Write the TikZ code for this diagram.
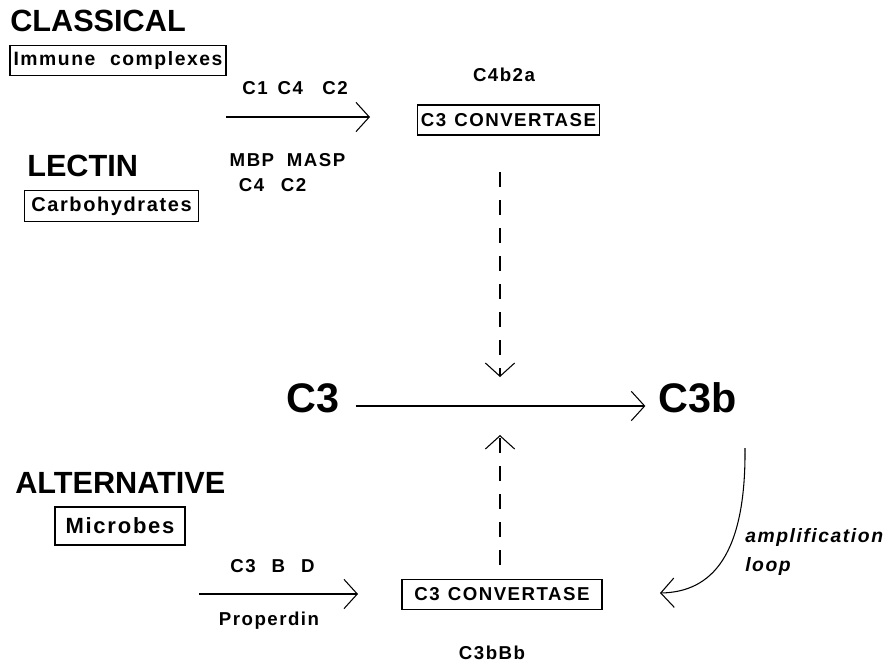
\documentclass[tikz,border=0pt]{standalone}
\usepackage{fontspec}
\setmainfont{Liberation Sans}
\newfontfamily\spacedsans[LetterSpace=8]{Liberation Sans}
\usepackage{tikz}
\usetikzlibrary{arrows.meta}

\begin{document}
\begin{tikzpicture}[x=0.75pt,y=0.75pt,yscale=-1,xscale=1,
  head/.style={anchor=west,inner sep=0pt,font=\fontsize{23}{26}\selectfont\bfseries},
  big/.style={inner sep=0pt,font=\fontsize{31}{34}\selectfont\bfseries},
  lbl/.style={inner sep=0pt,font=\fontsize{14}{16}\spacedsans\bfseries},
  ital/.style={anchor=west,inner sep=0pt,font=\fontsize{14.5}{16}\spacedsans\bfseries\itshape},
  boxlbl/.style={draw,line width=0.8pt,inner sep=2pt,font=\fontsize{15}{17}\spacedsans\bfseries},
  arr/.style={line width=0.8pt,-{Straight Barb[length=10pt,width=22pt,line width=0.8pt]}},
  dasharr/.style={arr,dash pattern=on 11pt off 10pt}]
\useasboundingbox (0,0) rectangle (891,668);
% Text Node
\node [head] (classical) at (10,21) {CLASSICAL};
% Text Node
\node [boxlbl,font=\fontsize{14.5}{16}\spacedsans\bfseries,minimum width=162pt,minimum height=22.5pt] (immune) at (118,60.5) {Immune\hspace{11pt}complexes};
% Text Node
\node [lbl] (cfour) at (295,88) {C1\hspace{7.5pt}C4\hspace{14.5pt}C2};
% Text Node
\node [head] (lectin) at (27,166) {LECTIN};
% Text Node
\node [boxlbl,minimum width=130pt,minimum height=23.5pt] (carbo) at (111.5,206) {Carbohydrates};
% Text Node
\node [lbl] (mbp) at (287.5,160) {MBP\hspace{9.5pt}MASP};
% Text Node
\node [lbl] (lectinc) at (272.5,185.5) {C4\hspace{12.5pt}C2};
% Text Node
\node [lbl] (cfourb) at (504,75) {C4b2a};
% Text Node
\node [boxlbl,font=\fontsize{14}{16}\spacedsans\bfseries,minimum width=137pt,minimum height=22.5pt] (convclass) at (508.5,120) {C3\hspace{6pt}CONVERTASE};
% Text Node
\node [big] (cthree) at (313,398) {C3};
% Text Node
\node [big] (cthreeb) at (698,398) {C3b};
% Text Node
\node [head] (alternative) at (15,483) {ALTERNATIVE};
% Text Node
\node [boxlbl,font=\fontsize{16.5}{18}\spacedsans\bfseries,minimum width=97.5pt,minimum height=28.5pt] (microbes) at (120,526) {Microbes\hspace{10pt}};
% Text Node
\node [lbl] (cthreebd) at (272.5,566) {C3\hspace{12pt}B\hspace{12pt}D};
% Text Node
\node [lbl] (properdin) at (269,621) {Properdin};
% Text Node
\node [boxlbl,font=\fontsize{14}{16}\spacedsans\bfseries,minimum width=150pt,minimum height=22pt] (convalt) at (502,594.5) {C3\hspace{6pt}CONVERTASE\hspace{10pt}};
% Text Node
\node [lbl] (cbb) at (492,653) {C3bBb};
% Text Node
\node [ital] (ampl) at (745,537) {amplification};
% Text Node
\node [ital] (loop) at (745,566) {loop};

\coordinate (clstart) at (226,117);
\coordinate (clend) at (370,117);
\coordinate (altstart) at (199,594);
\coordinate (altend) at (358,594);
\coordinate (downstart) at (500,172);
\coordinate (downtip) at (500,377);
\coordinate (upstart) at (500,565);
\coordinate (uptip) at (500,435);
\coordinate (loopstart) at (745,448);
\coordinate (looptip) at (660,593);

%Straight Lines
\draw [arr] (clstart) -- (clend);
%Straight Lines
\draw [arr] (altstart) -- (altend);
%Straight Lines
\draw [arr] ([xshift=12pt]cthree.east |- 0,406) -- ([xshift=-10pt]cthreeb.west |- 0,406);
%Dashed Lines
\draw [dasharr] (downstart) -- (downtip);
%Dashed Lines
\draw [dasharr] (upstart) -- (uptip);
%Curve Lines
\draw [arr] (loopstart) .. controls (746,555) and (712,592) .. (looptip);
\end{tikzpicture}
\end{document}
